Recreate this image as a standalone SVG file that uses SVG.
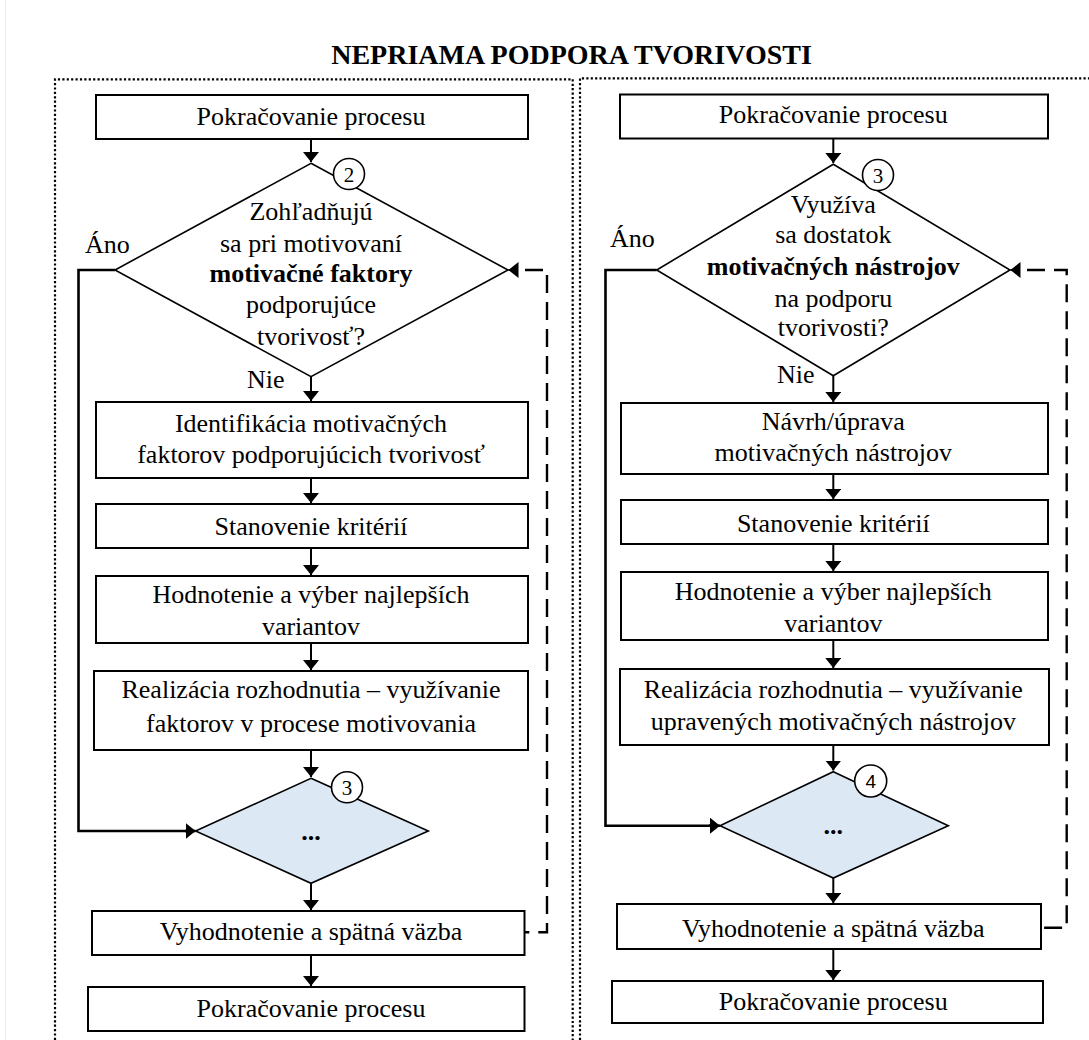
<svg xmlns="http://www.w3.org/2000/svg" width="1089" height="1040" viewBox="0 0 1089 1040">
  <defs>
    <style>
      .t { font-family: "Liberation Serif", "Times New Roman", serif; font-size: 26px; text-anchor: middle; fill: #000; }
      .ts { text-anchor: start; }
      .b { font-weight: bold; }
      .title { font-family: "Liberation Serif", "Times New Roman", serif; font-size: 28px; font-weight: bold; text-anchor: middle; fill: #000; }
      .num { font-family: "Liberation Serif", "Times New Roman", serif; font-size: 21px; text-anchor: middle; fill: #000; }
      .nums { font-family: "Liberation Sans", Arial, sans-serif; font-size: 19px; text-anchor: middle; fill: #000; }
      .box { fill: #fff; stroke: #000; stroke-width: 2; }
      .dia { fill: #fff; stroke: #000; stroke-width: 1.6; }
      .dia2 { fill: #dde8f5; stroke: #000; stroke-width: 1.6; }
      .circ { fill: #fff; stroke: #000; stroke-width: 1.6; }
      .frame { fill: none; stroke: #000; stroke-width: 2.2; stroke-dasharray: 2.2 2.2; }
      .flow { fill: none; stroke: #000; stroke-width: 2; marker-end: url(#ah); }
      .yes { fill: none; stroke: #000; stroke-width: 2.6; }
      .fb { fill: none; stroke: #000; stroke-width: 2.4; stroke-dasharray: 18 9; stroke-dashoffset: 18; }
    </style>
    <marker id="ah" viewBox="0 0 10 16" refX="10" refY="8" markerWidth="10" markerHeight="16" markerUnits="userSpaceOnUse" orient="auto">
      <path d="M0,0 L10,8 L0,16 z" fill="#000"/>
    </marker>
  </defs>

  <rect x="0" y="0" width="1089" height="1040" fill="#fff"/>
  <line x1="5.5" y1="0" x2="5.5" y2="1040" stroke="#ececec" stroke-width="1"/>

  <text class="title" x="571.5" y="63.5">NEPRIAMA PODPORA TVORIVOSTI</text>

  <!-- dotted panel frames -->
  <g id="frames">
    <path class="frame" d="M55,1040 V79.3 H572.7 V1040"/>
    <path class="frame" d="M580,1040 V78.3 H1089"/>
  </g>

  <!-- connectors -->
  <g id="connectors">
    <!-- left column -->
    <line class="flow" x1="311" y1="139" x2="311" y2="162"/>
    <line class="flow" x1="311" y1="377" x2="311" y2="401"/>
    <line class="flow" x1="311" y1="478" x2="311" y2="503"/>
    <line class="flow" x1="311" y1="548" x2="311" y2="575"/>
    <line class="flow" x1="311" y1="643" x2="311" y2="670"/>
    <line class="flow" x1="311" y1="750" x2="311" y2="777"/>
    <line class="flow" x1="311" y1="883" x2="311" y2="910"/>
    <line class="flow" x1="311" y1="955" x2="311" y2="986"/>
    <path class="yes" d="M115,270 H78.5 V831 H192"/>
    <line class="flow" x1="185" y1="831" x2="195.6" y2="831" style="stroke-width:2.6"/>
    <path class="fb" d="M516,270 H547 V932.3 H524.5"/>
    <line class="flow" x1="517" y1="270" x2="508.5" y2="270"/>

    <!-- right column -->
    <line class="flow" x1="833.3" y1="138.5" x2="833.3" y2="163"/>
    <line class="flow" x1="833.3" y1="376" x2="833.3" y2="402"/>
    <line class="flow" x1="833.3" y1="474" x2="833.3" y2="499"/>
    <line class="flow" x1="833.3" y1="544" x2="833.3" y2="571"/>
    <line class="flow" x1="833.3" y1="640" x2="833.3" y2="668"/>
    <line class="flow" x1="833.3" y1="745" x2="833.3" y2="770.5"/>
    <line class="flow" x1="833.3" y1="878" x2="833.3" y2="903"/>
    <line class="flow" x1="833.3" y1="949" x2="833.3" y2="980"/>
    <path class="yes" d="M656.7,270 H605.5 V825.7 H716"/>
    <line class="flow" x1="709" y1="825.7" x2="720" y2="825.7" style="stroke-width:2.6"/>
    <path class="fb" d="M1018,270 H1066.7 V927.7 H1040.7"/>
    <line class="flow" x1="1019" y1="270" x2="1010.5" y2="270"/>
  </g>

  <!-- left flow -->
  <g id="l-start">
    <rect class="box" x="96" y="95" width="432" height="44"/>
    <text class="t" x="311" y="125">Pokračovanie procesu</text>
  </g>
  <g id="l-decision">
    <polygon class="dia" points="311,163.3 508,270 311,376.7 115,270"/>
    <text class="t" x="311" y="220">Zohľadňujú</text>
    <text class="t" x="311" y="251.7">sa pri motivovaní</text>
    <text class="t b" x="311" y="281.7">motivačné faktory</text>
    <text class="t" x="311" y="313">podporujúce</text>
    <text class="t" x="311" y="345">tvorivosť?</text>
  </g>
  <g id="l-marker2">
    <circle class="circ" cx="349" cy="174" r="15.5"/>
    <text class="num" x="349" y="181.5">2</text>
  </g>
  <g id="l-labels">
    <text class="t ts" x="85" y="252.5">Áno</text>
    <text class="t ts" x="247" y="388">Nie</text>
  </g>
  <g id="l-identify">
    <rect class="box" x="96" y="402" width="432" height="76"/>
    <text class="t" x="311" y="431.7">Identifikácia motivačných</text>
    <text class="t" x="311" y="463.3">faktorov podporujúcich tvorivosť</text>
  </g>
  <g id="l-criteria">
    <rect class="box" x="96" y="504" width="432" height="44"/>
    <text class="t" x="311" y="535">Stanovenie kritérií</text>
  </g>
  <g id="l-evaluate">
    <rect class="box" x="96" y="576" width="432" height="67"/>
    <text class="t" x="311" y="603.3">Hodnotenie a výber najlepších</text>
    <text class="t" x="311" y="635">variantov</text>
  </g>
  <g id="l-realize">
    <rect class="box" x="94" y="671" width="434" height="79"/>
    <text class="t" x="311" y="698.3">Realizácia rozhodnutia – využívanie</text>
    <text class="t" x="311" y="731.7">faktorov v procese motivovania</text>
  </g>
  <g id="l-next">
    <polygon class="dia2" points="311,778.3 428.3,831 311,883.3 195.6,831"/>
    <text class="t b" x="311" y="840">...</text>
    <circle class="circ" cx="347" cy="787.3" r="15.5"/>
    <text class="num" x="347" y="794.8">3</text>
  </g>
  <g id="l-feedback">
    <rect class="box" x="92" y="911" width="432.5" height="44"/>
    <text class="t" x="311" y="940">Vyhodnotenie a spätná väzba</text>
  </g>
  <g id="l-end">
    <rect class="box" x="88" y="987" width="436.5" height="44"/>
    <text class="t" x="311" y="1016.7">Pokračovanie procesu</text>
  </g>

  <!-- right flow -->
  <g id="r-start">
    <rect class="box" x="620" y="94.5" width="428" height="44"/>
    <text class="t" x="833.3" y="123.3">Pokračovanie procesu</text>
  </g>
  <g id="r-decision">
    <polygon class="dia" points="833.3,164.3 1010,270 833.3,375.7 656.7,270"/>
    <text class="t" x="833.3" y="212.7">Využíva</text>
    <text class="t" x="833.3" y="243.3">sa dostatok</text>
    <text class="t b" x="833.3" y="275">motivačných nástrojov</text>
    <text class="t" x="833.3" y="306.7">na podporu</text>
    <text class="t" x="833.3" y="336">tvorivosti?</text>
  </g>
  <g id="r-marker3">
    <circle class="circ" cx="878" cy="175" r="15.5"/>
    <text class="num" x="878" y="182.5">3</text>
  </g>
  <g id="r-labels">
    <text class="t ts" x="610" y="246.7">Áno</text>
    <text class="t ts" x="777" y="383.3">Nie</text>
  </g>
  <g id="r-design">
    <rect class="box" x="621" y="403" width="427" height="71"/>
    <text class="t" x="833.3" y="430">Návrh/úprava</text>
    <text class="t" x="833.3" y="460.7">motivačných nástrojov</text>
  </g>
  <g id="r-criteria">
    <rect class="box" x="621" y="500" width="427" height="44"/>
    <text class="t" x="833.3" y="531.7">Stanovenie kritérií</text>
  </g>
  <g id="r-evaluate">
    <rect class="box" x="621" y="572" width="427" height="68"/>
    <text class="t" x="833.3" y="600">Hodnotenie a výber najlepších</text>
    <text class="t" x="833.3" y="631.7">variantov</text>
  </g>
  <g id="r-realize">
    <rect class="box" x="620" y="669" width="429" height="76"/>
    <text class="t" x="833.3" y="698">Realizácia rozhodnutia – využívanie</text>
    <text class="t" x="833.3" y="730">upravených motivačných nástrojov</text>
  </g>
  <g id="r-next">
    <polygon class="dia2" points="833.3,771.7 948.3,825.7 833.3,878 720,825.7"/>
    <text class="t b" x="833.3" y="834">...</text>
    <circle class="circ" cx="870.7" cy="781" r="16"/>
    <text class="nums" x="870.7" y="788">4</text>
  </g>
  <g id="r-feedback">
    <rect class="box" x="617" y="904" width="424" height="45"/>
    <text class="t" x="833.3" y="936.7">Vyhodnotenie a spätná väzba</text>
  </g>
  <g id="r-end">
    <rect class="box" x="612" y="981" width="431" height="42"/>
    <text class="t" x="833.3" y="1010">Pokračovanie procesu</text>
  </g>
</svg>
